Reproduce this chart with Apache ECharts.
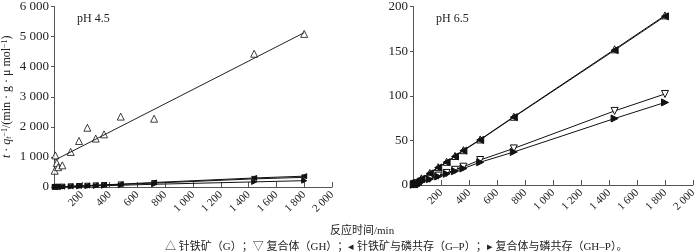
<!DOCTYPE html>
<html>
<head>
<meta charset="utf-8">
<script src="https://cdn.jsdelivr.net/npm/echarts@6/dist/echarts.min.js"></script>
<style>
  html, body { margin: 0; background: #fff; }
  #chart { width: 700px; height: 252px; }
</style>
</head>
<body>
<div id="chart"></div>
<script>
// reaction time (min)
const times = [5, 10, 20, 30, 60, 120, 180, 240, 300, 360, 480, 720, 1440, 1800]
const xTicks = [0, 2000, 200]

// pH 4.5
const g45 = [540, 1050, 800, 660, 720, 1165, 1530, 1970, 1610, 1750, 2340, 2270, 4430, 5090]
const g45Fit = [[0, 880], [1800, 5130]]
const gh45 = [1, 2, 4, 5, 11, 22, 32, 43, 54, 65, 86, 130, 270, 320]
const gp45 = [1, 2, 4, 6, 12, 24, 36, 48, 60, 72, 96, 150, 300, 360]
const ghp45 = [1, 1, 2, 4, 7, 14, 22, 29, 36, 43, 58, 90, 170, 210]

// pH 6.5
const g65 = [1, 1.5, 2.5, 3.5, 7.5, 13.5, 20, 26, 32.5, 39, 51, 76.5, 152, 190]
const gp65 = [0.8, 1.3, 2.3, 3.3, 7, 13, 19.5, 25.5, 32, 38.5, 50.5, 76, 151, 189]
const gh65 = [0.5, 1, 1.5, 2, 4, 7, 10.5, 13.5, 17, 20.5, 28, 41, 83, 102]
const ghp65 = [0.4, 0.8, 1.3, 1.8, 3.5, 6.5, 9.5, 12.5, 15.5, 18.5, 25.5, 37, 74.5, 92.5]

const serif = '"Liberation Serif", "Noto Sans CJK SC", serif'
const axisColor = '#555'

const pair = (ys) => times.map((t, i) => [t, ys[i]])
const spaced = (v) => String(v).replace(/\B(?=(\d{3})+(?!\d))/g, ' ')

function xAxis(gridIndex) {
  return {
    type: 'value', gridIndex,
    min: xTicks[0], max: xTicks[1], interval: xTicks[2],
    axisLine: { lineStyle: { color: axisColor } },
    axisTick: { inside: true, length: 5, lineStyle: { color: axisColor } },
    axisLabel: {
      rotate: 45, margin: 6, color: '#222', fontFamily: serif, fontSize: 11,
      formatter: (v) => (v === 0 ? '' : spaced(v)),
    },
    splitLine: { show: false },
  }
}

function yAxis(gridIndex, max, interval, name) {
  return {
    type: 'value', gridIndex, min: 0, max, interval,
    name, nameLocation: 'middle', nameGap: 41,
    nameTextStyle: {
      color: '#222', fontFamily: serif, fontSize: 12,
      rich: {
        i: { fontStyle: 'italic', fontFamily: serif, fontSize: 12 },
        s: { fontStyle: 'italic', fontFamily: serif, fontSize: 8, verticalAlign: 'bottom' },
        p: { fontFamily: serif, fontSize: 8, verticalAlign: 'top' },
      },
    },
    axisLine: { show: true, lineStyle: { color: axisColor } },
    axisTick: { show: true, length: 3, lineStyle: { color: axisColor } },
    axisLabel: { color: '#222', fontFamily: serif, fontSize: 13, margin: 5, formatter: spaced },
    splitLine: { show: false },
  }
}

function lineSeries(name, data, idx, rot, filled, size) {
  return {
    name, type: 'line', xAxisIndex: idx, yAxisIndex: idx,
    data: pair(data),
    symbol: 'triangle', symbolRotate: rot, symbolSize: size,
    lineStyle: { color: '#111', width: 1 },
    itemStyle: { color: filled ? '#111' : '#fff', borderColor: '#111', borderWidth: 1 },
    z: filled ? 3 : 2,
  }
}

const chart = echarts.init(document.getElementById('chart'))
chart.setOption({
  animation: false,
  backgroundColor: '#fff',
  textStyle: { fontFamily: serif },
  title: [
    { text: 'pH 4.5', left: 72, top: 8, textStyle: { fontFamily: serif, fontSize: 12, fontWeight: 'normal', color: '#222' } },
    { text: 'pH 6.5', left: 431, top: 8, textStyle: { fontFamily: serif, fontSize: 12, fontWeight: 'normal', color: '#222' } },
    { text: '反应时间/min', left: 325, top: 221, textStyle: { fontFamily: serif, fontSize: 11, fontWeight: 'normal', color: '#222' } },
    {
      text: '△ 针铁矿（G）；▽ 复合体（GH）；◂ 针铁矿与磷共存（G–P）；▸ 复合体与磷共存（GH–P）。',
      left: 160, top: 237,
      textStyle: { fontFamily: serif, fontSize: 11, fontWeight: 'normal', color: '#222' },
    },
  ],
  grid: [
    { left: 51, top: 5, width: 281, height: 182 },
    { left: 413, top: 6, width: 280, height: 179 },
  ],
  xAxis: [xAxis(0), xAxis(1)],
  yAxis: [
    yAxis(0, 6000, 1000, '{i|t} · {i|q}{s|t}{p|−1}/(min · g · μ mol{p|−1})'),
    yAxis(1, 200, 50, ''),
  ],
  series: [
    {
      name: 'G fit', type: 'line', xAxisIndex: 0, yAxisIndex: 0,
      data: g45Fit, symbol: 'none', lineStyle: { color: '#222', width: 1 },
    },
    {
      name: 'G', type: 'scatter', xAxisIndex: 0, yAxisIndex: 0,
      data: pair(g45), symbol: 'triangle', symbolSize: 7,
      itemStyle: { color: '#fff', borderColor: '#111', borderWidth: 1 },
    },
    lineSeries('GH', gh45, 0, 180, false, 5),
    lineSeries('G-P', gp45, 0, 90, true, 5),
    lineSeries('GH-P', ghp45, 0, -90, true, 5),
    lineSeries('G', g65, 1, 0, false, 7),
    lineSeries('G-P', gp65, 1, 90, true, 7),
    lineSeries('GH', gh65, 1, 180, false, 7),
    lineSeries('GH-P', ghp65, 1, -90, true, 7),
  ],
})
</script>
</body>
</html>
